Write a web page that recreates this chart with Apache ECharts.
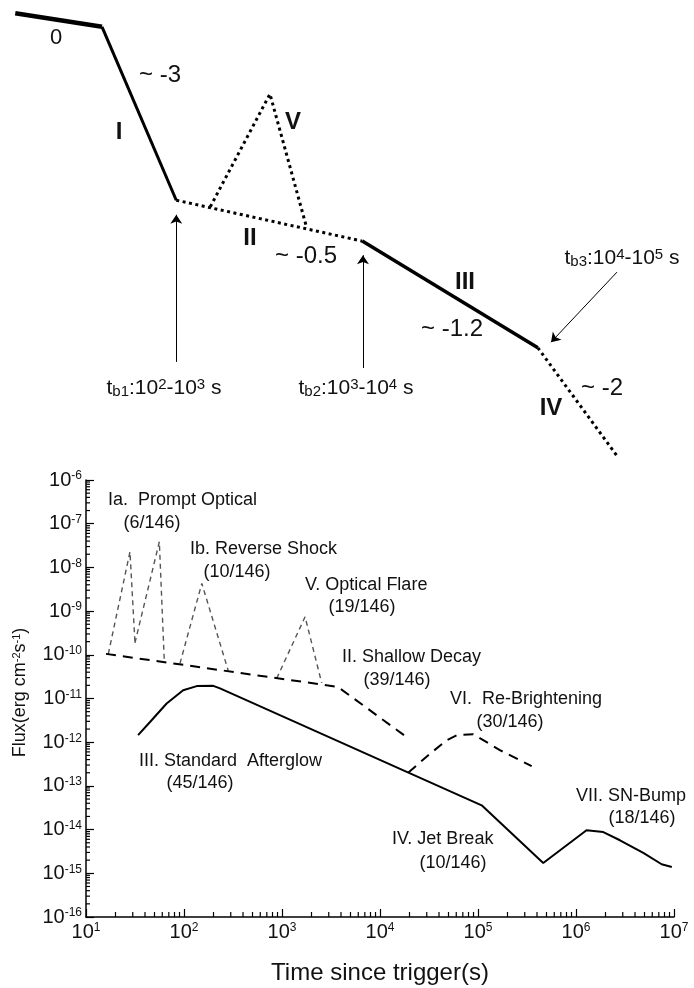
<!DOCTYPE html>
<html><head><meta charset="utf-8">
<script src="https://cdn.jsdelivr.net/npm/echarts@6/dist/echarts.min.js"></script>
<style>html,body{margin:0;padding:0;background:#fff}#c{width:694px;height:988px}</style>
</head><body><div id="c"></div>
<script>
// ---------- Top schematic (schematic units: log time vs log flux) ----------
const seg0   = [[0.22, 9.72], [1.47, 9.43]];
const segI   = [[1.47, 9.43], [2.54, 5.74]];
const segII  = [[2.54, 5.74], [5.22, 4.87]];
const segV   = [[3.03, 5.60], [3.89, 8.00], [4.42, 5.15]];
const segIII = [[5.22, 4.87], [7.75, 2.60]];
const segIV  = [[7.75, 2.60], [8.90, 0.28]];
const arrowTb1 = [[2.54, 2.30], [2.54, 5.43]];
const arrowTb2 = [[5.23, 2.17], [5.23, 4.57]];
const arrowTb3 = [[8.89, 4.21], [7.94, 2.72]];
const topLabels = ['0', '~ -3', 'I', 'V', 'II', '~ -0.5', 'III', '~ -1.2', '~ -2', 'IV'];
const breakLabels = ['{n|t}{sb|b1}{n|:10}{sp|2}{n|-10}{sp|3}{n| s}',
                     '{n|t}{sb|b2}{n|:10}{sp|3}{n|-10}{sp|4}{n| s}',
                     '{n|t}{sb|b3}{n|:10}{sp|4}{n|-10}{sp|5}{n| s}'];

// ---------- Bottom panel: flux vs time ----------
const flare1T = [16.9, 28.1, 31.6];   const flare1F = [1.05e-10, 2.28e-8, 1.88e-10];
const flare2T = [31.6, 56, 63];       const flare2F = [1.88e-10, 3.86e-8, 6.9e-11];
const rsT     = [91, 152, 283];       const rsF     = [6.35e-11, 4.3e-9, 4.3e-11];
const ofT     = [883, 1720, 2540];    const ofF     = [2.88e-11, 7.4e-10, 2.28e-11];
const shallowT = [16, 3700, 17600];   const shallowF = [1.05e-10, 1.85e-11, 1.45e-12];
const rebrightT = [19500, 31100, 48000, 60700, 89500, 167000, 353000];
const rebrightF = [2.03e-13, 5.05e-13, 1.11e-12, 1.45e-12, 1.53e-12, 6.6e-13, 2.82e-13];
const afterT = [34, 45, 66.5, 98, 135, 199, 233, 109000, 463000, 1.28e6, 1.9e6, 2.81e6, 4.86e6, 7.48e6, 9.5e6];
const afterF = [1.45e-12, 2.9e-12, 7.7e-12, 1.55e-11, 1.92e-11, 1.95e-11, 1.7e-11, 3.6e-14, 1.72e-15, 9.7e-15, 8.8e-15, 5.7e-15, 2.92e-15, 1.61e-15, 1.40e-15];
const xDecades = [1, 2, 3, 4, 5, 6, 7];
const yDecades = [-16, -15, -14, -13, -12, -11, -10, -9, -8, -7, -6];
const bottomLabels = ['Ia.  Prompt Optical', '(6/146)', 'Ib. Reverse Shock', '(10/146)',
  'V. Optical Flare', '(19/146)', 'II. Shallow Decay', '(39/146)',
  'VI.  Re-Brightening', '(30/146)', 'III. Standard  Afterglow', '(45/146)',
  'IV. Jet Break', '(10/146)', 'VII. SN-Bump', '(18/146)'];
const xTitle = 'Time since trigger(s)';
const yTitle = 'Flux(erg cm{s|-2}s{s|-1})';

const FF = '"Liberation Sans", Arial, sans-serif';
const zip = (a, b) => a.map((v, i) => [v, b[i]]);

function minorVals(decs) {
  const out = [];
  for (let i = 0; i < decs.length - 1; i++)
    for (let k = 2; k <= 9; k++) out.push(k * Math.pow(10, decs[i]));
  return out;
}
const xMinor = minorVals(xDecades).map(v => [v, 1e-16]);
const yMinor = minorVals(yDecades).map(v => [10, v]);

function lineS(data, xi, style) {
  return { type: 'line', xAxisIndex: xi, yAxisIndex: xi, data, showSymbol: false, symbol: 'none',
    silent: true, animation: false, lineStyle: style };
}
const dotted = [3, 3.5];

const labRich = {
  b: { fontSize: 20, lineHeight: 20, padding: [6, 0, 0, 0], verticalAlign: 'bottom', fontFamily: FF, color: '#111' },
  s: { fontSize: 12, lineHeight: 12, verticalAlign: 'top', fontFamily: FF, color: '#111' }
};
const expFmt = v => '{b|10}{s|' + Math.round(Math.log10(v)) + '}';

function txt(x, y, text, extra) {
  return { type: 'text', x, y, silent: true, style: Object.assign({ text, fill: '#111', fontFamily: FF,
    fontSize: 18, align: 'center', verticalAlign: 'middle' }, extra || {}) };
}
const tRich = {
  n: { fontSize: 21, lineHeight: 22, fontFamily: FF, fill: '#111' },
  sb: { fontSize: 15, lineHeight: 15, verticalAlign: 'bottom', fontFamily: FF, fill: '#111' },
  sp: { fontSize: 15, lineHeight: 15, verticalAlign: 'top', fontFamily: FF, fill: '#111' }
};
const big = { fontSize: 24 };
const bold = { fontSize: 24, fontWeight: 'bold' };
const L = { align: 'left' };

const graphics = [
  txt(56, 38, topLabels[0], { fontSize: 22 }),
  txt(160, 75, topLabels[1], big),
  txt(119, 132, topLabels[2], bold),
  txt(293, 122, topLabels[3], bold),
  txt(250, 238, topLabels[4], bold),
  txt(306, 256, topLabels[5], big),
  txt(465, 282, topLabels[6], bold),
  txt(452, 329, topLabels[7], big),
  txt(602, 388, topLabels[8], big),
  txt(551, 408, topLabels[9], bold),
  txt(164, 388, breakLabels[0], { rich: tRich }),
  txt(356, 388, breakLabels[1], { rich: tRich }),
  txt(622, 258, breakLabels[2], { rich: tRich }),
  txt(108, 500, bottomLabels[0], L),
  txt(152, 523, bottomLabels[1]),
  txt(190, 549, bottomLabels[2], L),
  txt(237, 572, bottomLabels[3]),
  txt(305, 585, bottomLabels[4], L),
  txt(362, 607, bottomLabels[5]),
  txt(342, 657, bottomLabels[6], L),
  txt(397, 680, bottomLabels[7]),
  txt(450, 699, bottomLabels[8], L),
  txt(510, 722, bottomLabels[9]),
  txt(139, 761, bottomLabels[10], L),
  txt(200, 783, bottomLabels[11]),
  txt(392, 839, bottomLabels[12], L),
  txt(453, 863, bottomLabels[13]),
  txt(576, 796, bottomLabels[14], L),
  txt(642, 818, bottomLabels[15])
];

function tickSeries(data, size, offset) {
  return { type: 'scatter', xAxisIndex: 1, yAxisIndex: 1, data, symbol: 'rect', symbolSize: size,
    symbolOffset: offset, itemStyle: { color: '#000', opacity: 1 }, silent: true, clip: false,
    animation: false, z: 3 };
}

const option = {
  backgroundColor: '#fff',
  animation: false,
  textStyle: { fontFamily: FF },
  grid: [
    { left: 0, top: 0, width: 694, height: 470 },
    { left: 86, right: 20, top: 480, bottom: 71 }
  ],
  xAxis: [
    { gridIndex: 0, type: 'value', min: 0, max: 10, show: false },
    { gridIndex: 1, type: 'log', logBase: 10, min: 10, max: 1e7, interval: 1,
      axisLine: { onZero: false, lineStyle: { color: '#000', width: 1.5 } },
      axisTick: { inside: true, length: 8, lineStyle: { color: '#000', width: 1.2 } },
      splitLine: { show: false }, minorTick: { show: false },
      axisLabel: { formatter: expFmt, rich: labRich, margin: 5, color: '#111' },
      name: xTitle, nameLocation: 'middle', nameGap: 44,
      nameTextStyle: { fontSize: 24, color: '#111', fontFamily: FF } }
  ],
  yAxis: [
    { gridIndex: 0, type: 'value', min: 0, max: 10, show: false },
    { gridIndex: 1, type: 'log', logBase: 10, min: 1e-16, max: 1e-6, interval: 1,
      axisLine: { onZero: false, lineStyle: { color: '#000', width: 1.5 } },
      axisTick: { inside: true, length: 8, lineStyle: { color: '#000', width: 1.2 } },
      splitLine: { show: false }, minorTick: { show: false },
      axisLabel: { formatter: expFmt, rich: labRich, margin: 4, color: '#111' },
      name: yTitle, nameLocation: 'middle', nameGap: 57, nameRotate: 90,
      nameTextStyle: { fontSize: 18, color: '#111', fontFamily: FF, padding: [0, 0, 0, 12],
        rich: { s: { fontSize: 11, lineHeight: 11, verticalAlign: 'top', fontFamily: FF, color: '#111' } } } }
  ],
  graphic: graphics,
  series: [
    lineS(seg0, 0, { color: '#000', width: 4.5 }),
    lineS(segI, 0, { color: '#000', width: 3 }),
    lineS(segII, 0, { color: '#000', width: 3, type: dotted }),
    lineS(segV, 0, { color: '#000', width: 3, type: dotted }),
    lineS(segIII, 0, { color: '#000', width: 3.5 }),
    lineS(segIV, 0, { color: '#000', width: 3, type: dotted }),
    { type: 'lines', coordinateSystem: 'cartesian2d', xAxisIndex: 0, yAxisIndex: 0, silent: true,
      symbol: ['none', 'arrow'], symbolSize: 9, animation: false,
      lineStyle: { color: '#000', width: 1, opacity: 1 },
      data: [{ coords: arrowTb1 }, { coords: arrowTb2 }, { coords: arrowTb3 }] },
    lineS(zip(flare1T, flare1F), 1, { color: '#555', width: 1.4, type: [5, 4] }),
    lineS(zip(flare2T, flare2F), 1, { color: '#555', width: 1.4, type: [5, 4] }),
    lineS(zip(rsT, rsF), 1, { color: '#555', width: 1.4, type: [5, 4] }),
    lineS(zip(ofT, ofF), 1, { color: '#555', width: 1.4, type: [5, 4] }),
    lineS(zip(shallowT, shallowF), 1, { color: '#000', width: 2, type: [10, 7] }),
    lineS(zip(rebrightT, rebrightF), 1, { color: '#000', width: 2, type: [10, 7] }),
    lineS(zip(afterT, afterF), 1, { color: '#000', width: 2 }),
    tickSeries(xMinor, [1.2, 5], [0, -2.5]),
    tickSeries(yMinor, [4, 1.2], [2, 0])
  ]
};
const chart = echarts.init(document.getElementById('c'), null, { renderer: 'canvas' });
chart.setOption(option);
</script></body></html>
